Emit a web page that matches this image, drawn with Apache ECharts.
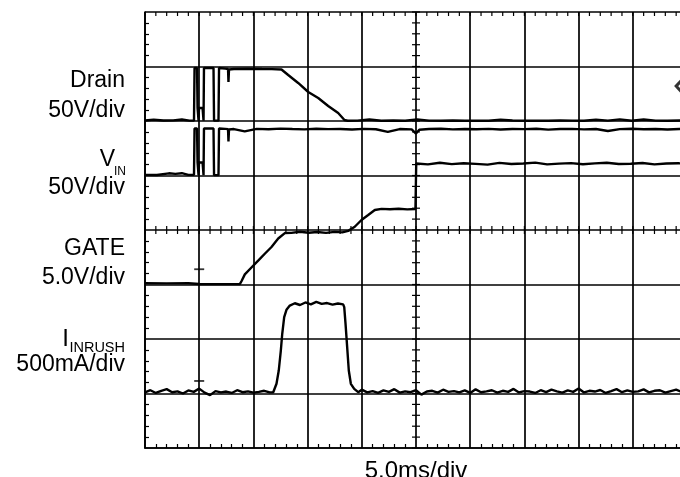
<!DOCTYPE html>
<html><head><meta charset="utf-8">
<script src="https://cdn.jsdelivr.net/npm/echarts@6/dist/echarts.min.js"></script>
<style>html,body{margin:0;padding:0;background:#fff}#c{width:680px;height:477px}</style>
</head><body><div id="c"></div>
<script>
// time base: ms, 5.0 ms/div, 0 = screen centre
// Drain (V), 50 V/div
const drainT = [-25, -24.2, -23.3, -22.4, -21.6, -20.9, -20.48, -20.43, -20.2, -20.15, -20.06, -20.02, -19.69, -19.6, -19.56, -18.68, -18.63, -18.22, -18.17, -17.6, -17.34, -17.3, -17.25, -16.8, -15.5, -14.2, -13.3, -12.41, -11.79, -10.87, -9.94, -9.02, -8.1, -7.18, -6.6, -6.3,
  -5.4, -4.3, -3.2, -2.1, -1.0, 0.1, 1.2, 2.3, 3.4, 4.5, 5.6, 6.7, 7.8, 8.9, 10.0, 11.1, 12.2, 13.3, 14.4, 15.5, 16.6, 17.7, 18.8, 19.9, 21.0, 22.1, 23.2, 24.3, 25.0];
const drainV = [0.5, 1.3, 0.4, 0.6, 1.4, 0.3, 0.3, 48.6, 48.6, 11.9, 0.3, 11.9, 11.9, 0.3, 48.6, 48.6, 0.3, 0.3, 48.6, 48.1, 47.7, 35.8, 47.2, 47.7, 47.9, 47.7, 47.6, 47.2, 42.2, 34.9, 26.6, 21.1, 13.8, 7.3, 0.9, 0.2,
  0.3, 1.4, 0.2, 0.4, 0.2, 1.5, 0.3, 0.2, 0.5, 0.2, 0.3, 0.2, 1.2, 0.4, 0.2, 0.3, 0.2, 0.5, 0.3, 0.2, 1.3, 0.3, 1.5, 0.2, 1.4, 0.3, 0.2, 0.4, 0.3];
// VIN (V), 50 V/div
const vinT = [-25, -23.9, -22.8, -22.2, -21.6, -21.0, -20.48, -20.43, -20.2, -20.15, -20.06, -20.02, -19.69, -19.6, -19.56, -18.68, -18.63, -18.22, -18.17, -17.6, -17.34, -17.3, -17.25, -16.8,
  -15.8, -14.7, -13.6, -12.5, -11.4, -10.3, -9.2, -8.1, -7.0, -5.9, -4.8, -3.7, -2.6, -1.5, -0.4, 0.0, 0.3, 1.2, 2.3, 3.4, 4.5, 5.6, 6.7, 7.8, 8.9, 10.0, 11.1, 12.2, 13.3, 14.4, 15.5, 16.6, 17.7, 18.8, 19.9, 21.0, 22.1, 23.2, 24.3, 25.0];
const vinV = [0.6, 0.5, 2.0, 1.5, 2.1, 0.6, 0.7, 43.1, 43.1, 11.9, 0.3, 11.9, 11.9, 0.3, 43.1, 43.1, 0.3, 0.3, 43.1, 42.8, 42.5, 31.2, 42.2, 42.6,
  40.5, 42.8, 42.4, 43.0, 42.6, 42.3, 42.9, 42.5, 42.7, 42.2, 42.8, 42.4, 40.0, 42.6, 42.3, 38.5, 42.0, 42.6, 42.9, 42.3, 42.7, 42.4, 42.8, 42.2, 42.6, 42.5, 42.9, 42.1, 42.6, 42.8, 42.3, 42.7, 40.8, 42.5, 42.9, 42.4, 42.6, 42.2, 42.7, 42.5];
// GATE (V), 5.0 V/div
const gateT = [-25, -23.0, -21.0, -20.0, -18.0, -16.24, -16.10, -15.79, -15.18, -14.56, -13.95, -13.33, -12.71, -12.10, -11.5, -10.7, -9.9, -9.1, -8.3, -7.5, -6.8, -6.25, -5.65, -5.03, -4.41, -3.80, -3.18, -2.4, -1.6, -0.8, -0.05, 0.02,
  1.1, 2.2, 3.3, 4.4, 5.5, 6.6, 7.7, 8.8, 9.9, 11.0, 12.1, 13.2, 14.3, 15.4, 16.5, 17.6, 18.7, 19.8, 20.9, 22.0, 23.1, 24.2, 25.0];
const gateV = [0.12, 0.1, 0.12, 0.05, 0.03, 0.05, 0.3, 0.93, 1.56, 2.19, 2.82, 3.44, 4.22, 4.72, 4.74, 4.84, 4.75, 4.82, 4.74, 4.83, 4.78, 4.92, 5.3, 5.92, 6.38, 6.84, 6.94, 6.9, 6.95, 6.89, 6.92, 11.1,
  11.02, 11.17, 11.04, 11.12, 11.07, 11.0, 11.16, 11.05, 11.1, 11.18, 11.02, 11.09, 11.14, 11.03, 11.11, 11.17, 11.06, 11.08, 11.15, 11.02, 11.1, 11.12, 11.07];
// I_INRUSH (mA), 500 mA/div
const inrushT = [-25, -24.5, -24, -23.5, -23, -22.5, -22, -21.5, -21, -20.5, -20, -19.5, -19, -18.5, -18, -17.5, -17, -16.5, -16, -15.5, -15, -14.5, -14, -13.5,
  -13.17, -12.87, -12.66, -12.47, -12.34, -12.16, -11.95, -11.64, -11.18,
  -10.7, -10.2, -9.7, -9.2, -8.7, -8.2, -7.7, -7.2, -6.72,
  -6.62, -6.50, -6.35, -6.20, -6.01, -5.70, -5.33,
  -5.0, -4.5, -4.0, -3.5, -3.0, -2.5, -2.0, -1.5, -1.0, -0.5, 0, 0.5, 1, 1.5, 2, 2.5, 3, 3.5, 4, 4.5, 5, 5.5, 6, 6.5, 7, 7.5, 8, 8.5, 9, 9.5, 10, 10.5, 11, 11.5, 12, 12.5, 13, 13.5, 14, 14.5, 15, 15.5, 16, 16.5, 17, 17.5, 18, 18.5, 19, 19.5, 20, 20.5, 21, 21.5, 22, 22.5, 23, 23.5, 24, 24.5, 25];
const inrushMA = [10, 30, 5, 25, 40, 12, 20, 0, 28, 15, 45, 8, -15, 22, 10, 18, 5, 30, 12, 20, 8, 15, 25, 10,
  12, 89, 211, 394, 548, 700, 768, 807, 828,
  812, 835, 818, 840, 822, 830, 815, 826, 818,
  792, 639, 425, 211, 89, 43, 12,
  35, 10, 22, 5, 28, 15, 40, 8, 20, 12, 30, -10, 18, 25, 8, 35, 15, 22, 10, 28, 5, 38, 12, 20, 30, 8, 25, 15, 42, 10, 22, 18, 5, 30, 12, 35, 20, 8, 28, 15, 45, 10, 25, 18, 32, 5, 22, 40, 12, 28, 15, 20, 38, 10, 25, 30, 8, 22, 35, 15, 20];
// screen markers (ms, div)
const refMarkT = [-20, -20];
const refMarkDiv = [-0.72, -2.77];
const trigMarkT = [24.55];
const trigMarkDiv = [2.64];
// graticule minor tick positions (ms along time, div along amplitude)
const minorTickT = [-25, -24, -23, -22, -21, -20, -19, -18, -17, -16, -15, -14, -13, -12, -11, -10, -9, -8, -7, -6, -5, -4, -3, -2, -1, 0, 1, 2, 3, 4, 5, 6, 7, 8, 9, 10, 11, 12, 13, 14, 15, 16, 17, 18, 19, 20, 21, 22, 23, 24, 25];
const minorTickDiv = [-4, -3.8, -3.6, -3.4, -3.2, -3, -2.8, -2.6, -2.4, -2.2, -2, -1.8, -1.6, -1.4, -1.2, -1, -0.8, -0.6, -0.4, -0.2, 0, 0.2, 0.4, 0.6, 0.8, 1, 1.2, 1.4, 1.6, 1.8, 2, 2.2, 2.4, 2.6, 2.8, 3, 3.2, 3.4, 3.6, 3.8, 4];
// texts
const chLabels = ['Drain', '50V/div', 'V', 'IN', '50V/div', 'GATE', '5.0V/div', 'I', 'INRUSH', '500mA/div'];
const timeLabel = '5.0ms/div';

const zip = (a, b) => a.map((v, i) => [v, b[i]]);
const K = '#000';
const FONT = '"Liberation Sans", Arial, sans-serif';
const LW = 1.7;

function hid(min, max) {
  return {type: 'value', gridIndex: 0, min: min, max: max, show: false,
    splitLine: {show: false}, axisLine: {show: false, onZero: false}, axisTick: {show: false}, axisLabel: {show: false}};
}
function trace(t, v, yi) {
  return {type: 'line', xAxisIndex: 0, yAxisIndex: yi, data: zip(t, v), symbol: 'none',
    lineStyle: {color: K, width: 2.4}, silent: true, z: 5};
}
// short graticule tick segments placed through the axis scales
function ticks(pts, dx1, dy1, dx2, dy2) {
  return {type: 'custom', xAxisIndex: 0, yAxisIndex: 0, data: pts, silent: true, z: 4, clip: false,
    renderItem: function (params, api) {
      const p = api.coord([api.value(0), api.value(1)]);
      return {type: 'line', shape: {x1: p[0] + dx1, y1: p[1] + dy1, x2: p[0] + dx2, y2: p[1] + dy2},
        style: {stroke: K, lineWidth: 1.2}};
    }};
}
function txt(s, x, y, size, align) {
  return {type: 'text', x: x, y: y, silent: true,
    style: {text: s, font: size + 'px ' + FONT, fill: K, align: align || 'right', verticalAlign: 'middle'}};
}

const chart = echarts.init(document.getElementById('c'), null, {renderer: 'canvas'});
chart.setOption({
  animation: false,
  backgroundColor: '#fff',
  grid: {left: 145, top: 12, width: 542, height: 436, containLabel: false, outerBoundsMode: 'none', show: false},
  xAxis: [{
    type: 'value', gridIndex: 0, position: 'bottom', min: -25, max: 25, interval: 5,
    axisLine: {show: true, onZero: false, lineStyle: {color: K, width: LW}},
    axisTick: {show: false, inside: true},
    minorTick: {show: true, splitNumber: 5, length: 4, lineStyle: {color: K, width: 1.2}},
    axisLabel: {show: false},
    splitLine: {show: true, lineStyle: {color: K, width: LW}},
    minorSplitLine: {show: false}
  }],
  yAxis: [{
    type: 'value', gridIndex: 0, position: 'left', min: -4, max: 4, interval: 1,
    axisLine: {show: true, onZero: false, lineStyle: {color: K, width: LW}},
    axisTick: {show: false, inside: true},
    minorTick: {show: true, splitNumber: 5, length: 4, lineStyle: {color: K, width: 1.2}},
    axisLabel: {show: false},
    splitLine: {show: true, lineStyle: {color: K, width: LW}},
    minorSplitLine: {show: false}
  },
    hid(-300, 100),   // Drain, ground 2 div above centre
    hid(-250, 150),   // VIN, ground 1 div above centre
    hid(-15, 25),     // GATE, ground 1 div below centre
    hid(-500, 3500)   // I_INRUSH, ground 3 div below centre
  ],
  series: [
    ticks(minorTickT.map(t => [t, 0]), 0, -4, 0, 4),   // centre horizontal
    ticks(minorTickDiv.map(d => [0, d]), -4, 0, 4, 0), // centre vertical
    ticks(minorTickT.map(t => [t, 4]), 0, 0, 0, 4),    // top border
    trace(drainT, drainV, 1),
    trace(vinT, vinV, 2),
    trace(gateT, gateV, 3),
    trace(inrushT, inrushMA, 4),
    {type: 'scatter', xAxisIndex: 0, yAxisIndex: 0, data: zip(refMarkT, refMarkDiv),
      symbol: 'rect', symbolSize: [10, 1.8], itemStyle: {color: K}, silent: true, z: 6},
    {type: 'scatter', xAxisIndex: 0, yAxisIndex: 0, data: zip(trigMarkT, trigMarkDiv), clip: false,
      symbol: 'diamond', symbolSize: [12, 13], itemStyle: {color: '#fff', borderColor: K, borderWidth: 3}, silent: true, z: 6}
  ],
  graphic: [
    txt(chLabels[0], 125, 80.5, 23),
    txt(chLabels[1], 125, 110.5, 23),
    txt(chLabels[2], 115, 159.5, 23),
    txt(chLabels[3], 126, 171.5, 12),
    txt(chLabels[4], 125, 188, 23),
    txt(chLabels[5], 125, 249, 23),
    txt(chLabels[6], 125, 278, 23),
    txt(chLabels[7], 69, 339, 24),
    txt(chLabels[8], 125, 347.5, 14.5),
    txt(chLabels[9], 125, 365, 23),
    txt(timeLabel, 416, 471.5, 24, 'center')
  ]
});
</script></body></html>
